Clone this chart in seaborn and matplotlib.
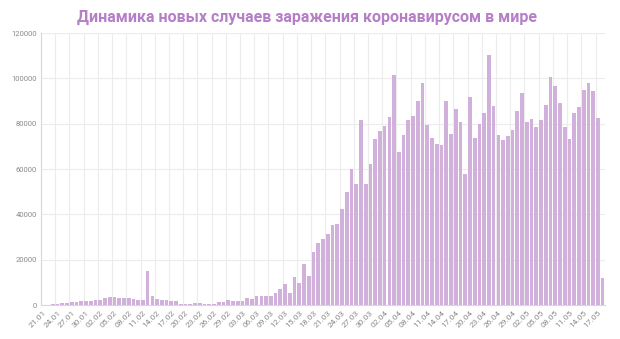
import matplotlib
matplotlib.use("Agg")
import matplotlib.pyplot as plt
import seaborn as sns
import pandas as pd
import numpy as np

title = "Динамика новых случаев заражения коронавирусом в мире"

dates = pd.date_range("2020-01-21", "2020-05-18", freq="D").strftime("%d.%m").tolist()

new_cases = [
    100, 200, 300, 500, 700, 900, 1500, 1500, 1700, 1800,
    1900, 2000, 2300, 2900, 3700, 3500, 3200, 3200, 3200, 2600,
    2200, 2200, 15100, 4000, 2600, 2100, 2000, 1900, 1900, 400,
    500, 600, 1000, 1000, 400, 500, 600, 1200, 1300, 2300,
    1700, 1750, 1800, 2900, 2600, 3800, 3900, 3800, 3900, 5100,
    6900, 9200, 5400, 12400, 9500, 17900, 12700, 23300, 27400, 29200,
    31400, 35200, 35600, 42200, 49900, 60100, 53200, 81400, 53500, 62300,
    73300, 76700, 78800, 82900, 101500, 67500, 75200, 81700, 83200, 90200,
    97800, 79200, 73800, 70900, 70400, 89800, 75500, 86500, 80700, 57700,
    91700, 73800, 79700, 84600, 110500, 87600, 75100, 72600, 74400, 77300,
    85500, 93400, 80700, 82100, 78500, 81700, 88400, 100500, 96800, 89200,
    78500, 73300, 84600, 87300, 94900, 98000, 94600, 82600, 12000,
]

y_ticks = [0, 20000, 40000, 60000, 80000, 100000, 120000]

df = pd.DataFrame({"date": dates, "cases": new_cases})

sns.set_theme(style="white")
plt.rcParams["font.family"] = ["Roboto", "DejaVu Sans"]

fig = plt.figure(figsize=(6.2, 3.39), dpi=100)
ax = fig.add_axes([41 / 620, 1 - 305 / 339, 564 / 620, 272 / 339])

sns.barplot(data=df, x="date", y="cases", color="#d1b1dc", saturation=1,
            width=0.78, ax=ax, zorder=3, linewidth=0)

n = len(dates)
ax.set_xlim(-0.5, n - 0.5)
ax.set_ylim(0, 120000)
ax.set_yticks(y_ticks)
ax.set_yticklabels([str(v) for v in y_ticks], fontsize=5.5, color="#8a8a8a")

tick_pos = list(range(0, n, 3))
ax.set_xticks(tick_pos)
ax.set_xticklabels([dates[i] for i in tick_pos], rotation=45, ha="right",
                   rotation_mode="anchor", fontsize=6, color="#8a8a8a")
ax.tick_params(axis="both", length=0, pad=3)

for v in y_ticks:
    ax.axhline(v, color="#ececec", lw=0.8, zorder=0)
for p in tick_pos:
    ax.axvline(p - 0.5, color="#ececec", lw=0.8, zorder=0)

for s in ["top", "right"]:
    ax.spines[s].set_visible(False)
ax.spines["left"].set_color("#d8d8d8")
ax.spines["left"].set_linewidth(0.8)
ax.spines["bottom"].set_color("#d8d8d8")
ax.spines["bottom"].set_linewidth(0.8)
ax.set_xlabel("")
ax.set_ylabel("")

fig.text(0.495, 1 - 17 / 339, title, ha="center", va="center",
         fontsize=11.5, fontweight="bold", color="#b57fc8")

fig.savefig("out.png", dpi=100, facecolor="white")
